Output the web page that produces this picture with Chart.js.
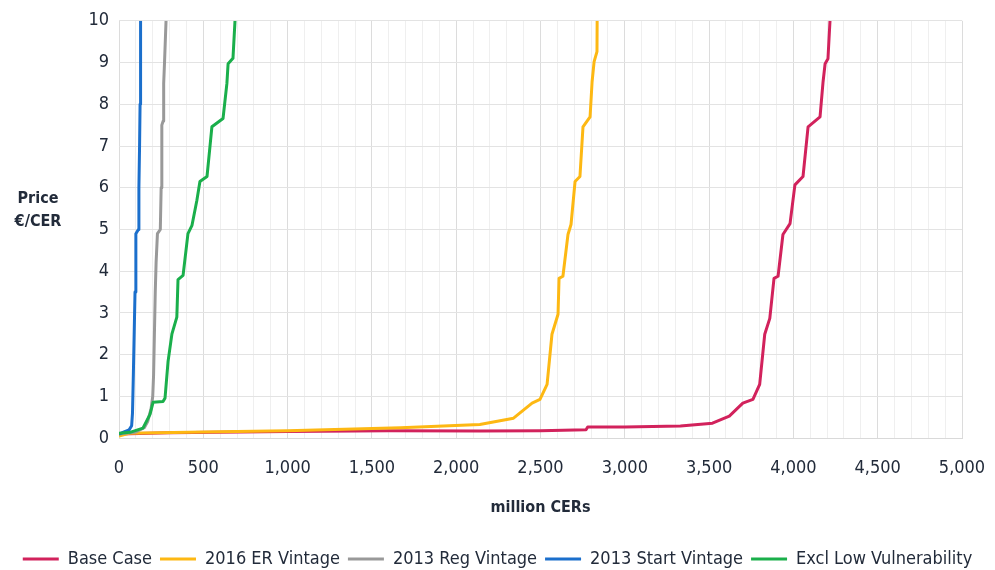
<!DOCTYPE html>
<html>
<head>
<meta charset="utf-8">
<script src="https://cdn.jsdelivr.net/npm/chart.js@4"></script>
<style>
  html, body { margin: 0; padding: 0; background: #fff; }
  #wrap { width: 995px; height: 570px; }
</style>
</head>
<body>
<div id="wrap"><canvas id="myChart" width="995" height="570"></canvas></div>
<script>
(() => {
'use strict'

// Data: [million CERs, price €/CER]
const seriesNames = ['Base Case', '2016 ER Vintage', '2013 Reg Vintage', '2013 Start Vintage', 'Excl Low Vulnerability']
const seriesColors = ['#d2225c', '#fdb813', '#999999', '#1b6fcc', '#1aaf4b']

const baseCase = [
  [0, 0.1], [300, 0.13], [1000, 0.16], [1600, 0.18], [2140, 0.17], [2500, 0.18], [2770, 0.2], [2780, 0.27],
  [3000, 0.27], [3330, 0.29], [3520, 0.36], [3620, 0.53], [3700, 0.84], [3760, 0.93], [3800, 1.29],
  [3830, 2.49], [3860, 2.87], [3885, 3.83], [3909, 3.88], [3938, 4.88], [3980, 5.14], [4009, 6.07],
  [4057, 6.27], [4087, 7.46], [4158, 7.7], [4176, 8.54], [4188, 8.97], [4205, 9.09], [4217, 10]
]
const er2016 = [
  [0, 0.05], [60, 0.12], [500, 0.15], [1000, 0.18], [1670, 0.25], [2140, 0.33], [2340, 0.48], [2450, 0.84],
  [2497, 0.93], [2539, 1.29], [2568, 2.49], [2604, 2.97], [2610, 3.83], [2633, 3.88], [2663, 4.88],
  [2681, 5.12], [2705, 6.15], [2734, 6.27], [2752, 7.46], [2794, 7.7], [2806, 8.54], [2818, 9.02],
  [2835, 9.26], [2836, 10]
]
const reg2013 = [
  [0, 0.1], [100, 0.15], [150, 0.25], [170, 0.4], [190, 0.7], [200, 1.0], [205, 1.5], [210, 2.5],
  [215, 3.5], [220, 4.2], [228, 4.9], [245, 5.0], [250, 6], [253, 7], [255, 7.5], [262, 7.6],
  [265, 8.5], [270, 9], [279, 10]
]
const start2013 = [
  [0, 0.1], [30, 0.15], [60, 0.2], [75, 0.3], [80, 0.6], [85, 1.5], [90, 2.5], [95, 3.5], [100, 4.9],
  [115, 5.0], [118, 6], [122, 7], [125, 8], [127, 9], [129, 10]
]
const exclLowVuln = [
  [0, 0.12], [65, 0.14], [142, 0.24], [184, 0.57], [202, 0.86], [261, 0.88], [273, 0.96], [291, 1.84],
  [314, 2.5], [343, 2.9], [350, 3.8], [380, 3.9], [409, 4.9], [433, 5.1], [462, 5.7], [480, 6.15],
  [522, 6.27], [551, 7.46], [617, 7.66], [640, 8.5], [647, 8.97], [676, 9.1], [688, 10]
]
const allSeries = [baseCase, er2016, reg2013, start2013, exclLowVuln]

const xTickLabels = ['0', '500', '1,000', '1,500', '2,000', '2,500', '3,000', '3,500', '4,000', '4,500', '5,000']
const yTickLabels = ['0', '1', '2', '3', '4', '5', '6', '7', '8', '9', '10']

const FONT = "'DejaVu Sans Condensed', Lato, sans-serif"
const TEXT = '#222b3a'

// Horizontal "Price €/CER" title at the left
const yTitle = {
  id: 'yTitle',
  afterDraw(chart) {
    const c = chart.ctx
    c.save()
    c.fillStyle = TEXT
    c.font = 'bold 16px ' + FONT
    c.textAlign = 'center'
    c.textBaseline = 'middle'
    c.fillText('Price', 38, 199)
    c.fillText('€/CER', 38, 222)
    c.restore()
  }
}

const ctx2 = document.getElementById('myChart')

// eslint-disable-next-line no-unused-vars
const myChart = new Chart(ctx2, {
  type: 'line',
  data: {
    datasets: seriesNames.map((name, i) => ({
      label: name,
      data: allSeries[i].map(p => ({ x: p[0], y: p[1] })),
      borderColor: seriesColors[i],
      backgroundColor: seriesColors[i],
      borderWidth: 3,
      borderJoinStyle: 'round',
      pointRadius: 0,
      tension: 0,
      fill: false
    })).reverse()
  },
  plugins: [yTitle],
  options: {
    responsive: false,
    animation: false,
    layout: { padding: { left: 0, right: 0, top: 19, bottom: -8 } },
    scales: {
      x: {
        type: 'linear',
        min: 0,
        max: 5000,
        afterFit: s => { s.paddingRight = 33; s.paddingLeft = 0 },
        ticks: {
          stepSize: 100,
          autoSkip: false,
          maxRotation: 0,
          color: TEXT,
          font: { family: FONT, size: 18 },
          padding: 19,
          callback: v => (v % 500 === 0 ? xTickLabels[v / 500] : '')
        },
        grid: {
          color: c => (c.tick && c.tick.value % 500 === 0 ? '#dcdcdc' : '#efefef'),
          drawTicks: false
        },
        border: { color: '#d9d9d9' },
        title: {
          display: true,
          text: 'million CERs',
          color: TEXT,
          font: { family: FONT, size: 16, weight: 'bold' },
          padding: { top: 0, bottom: 25 }
        }
      },
      y: {
        min: 0,
        max: 10,
        afterFit: s => { s.width = 119 },
        ticks: {
          stepSize: 1,
          color: TEXT,
          font: { family: FONT, size: 18 },
          padding: 10,
          callback: v => yTickLabels[v]
        },
        grid: { color: '#e3e3e3', drawTicks: false },
        border: { display: false }
      }
    },
    plugins: {
      legend: {
        display: true,
        position: 'bottom',
        reverse: true,
        labels: {
          usePointStyle: true,
          pointStyle: 'line',
          pointStyleWidth: 36,
          boxHeight: 3,
          color: TEXT,
          font: { family: FONT, size: 18 },
          padding: 8
        }
      },
      tooltip: { enabled: false }
    }
  }
})
})()
</script>
</body>
</html>
